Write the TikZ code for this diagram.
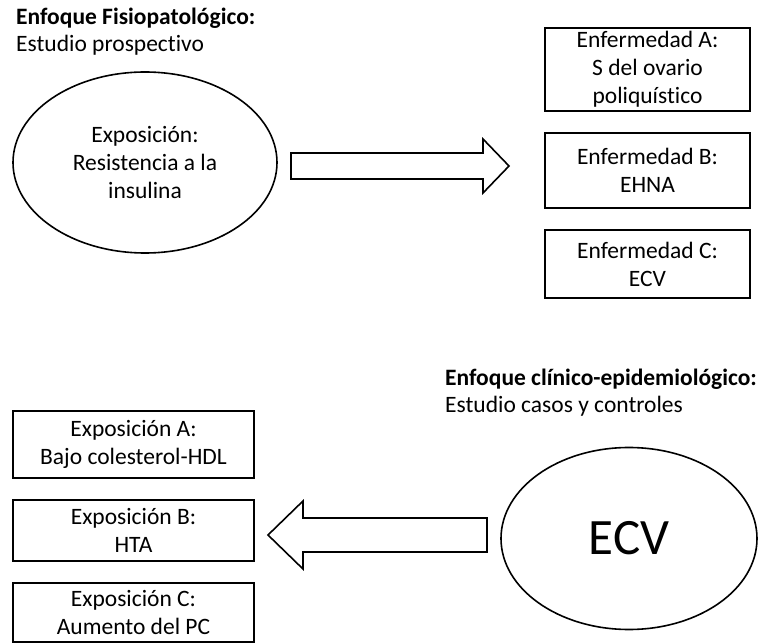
\documentclass[tikz,border=0pt]{standalone}
\usepackage{fontspec}
\setmainfont{Carlito}[Ligatures={NoCommon,NoContextual}]
\usetikzlibrary{shapes.geometric}
\begin{document}
\begin{tikzpicture}[x=1pt,y=-1pt,
  txt/.style={font=\fontsize{23.5}{28}\selectfont, inner sep=0pt},
  hdr/.style={txt, anchor=base west},
  box/.style={txt, draw, line width=1.8pt, align=center, rectangle},
  oval/.style={txt, draw, line width=1.6pt, align=center, ellipse},
  blockarrow/.style={draw, line width=1.6pt, line join=miter, fill=white}
]
\useasboundingbox (0,0) rectangle (758,644);

% top section
\node[hdr] (t1) at (16,25) {\bfseries Enfoque Fisiopatológico:};
\node[hdr] (t1s) at (16,52) {Estudio prospectivo};

\node[oval, minimum width=264pt, minimum height=181pt] (exp) at (145,162.5)
  {Exposición:\\Resistencia a la\\insulina};

\node[box, minimum width=205pt, minimum height=83pt] (ea) at (647.5,69.5)
  {Enfermedad A:\\S del ovario\\poliquístico};
\node[box, minimum width=205pt, minimum height=75pt] (eb) at (647.5,170.5)
  {Enfermedad B:\\EHNA};
\node[box, minimum width=205pt, minimum height=68pt] (ec) at (647.5,264)
  {Enfermedad C:\\ECV};

\draw[blockarrow] (291,153) -- (483,153) -- (483,139) -- (509,166)
  -- (483,193) -- (483,179) -- (291,179) -- cycle;

% bottom section
\node[hdr] (t2) at (445,385) {\bfseries Enfoque clínico-epidemiológico:};
\node[hdr] (t2s) at (445,412) {Estudio casos y controles};

\node[oval, minimum width=256pt, minimum height=182pt,
  font=\fontsize{51}{60}\selectfont] (ecv) at (629,538.5) {ECV};

\node[box, minimum width=241pt, minimum height=67pt] (xa) at (133.5,444.5)
  {Exposición A:\\Bajo colesterol-HDL};
\node[box, minimum width=241pt, minimum height=61pt] (xb) at (133.5,530.5)
  {Exposición B:\\HTA};
\node[box, minimum width=241pt, minimum height=59pt] (xc) at (133.5,612.5)
  {Exposición C:\\Aumento del PC};

\draw[blockarrow] (487,518) -- (303,518) -- (303,501) -- (268,535)
  -- (303,569) -- (303,552) -- (487,552) -- cycle;
\end{tikzpicture}
\end{document}
